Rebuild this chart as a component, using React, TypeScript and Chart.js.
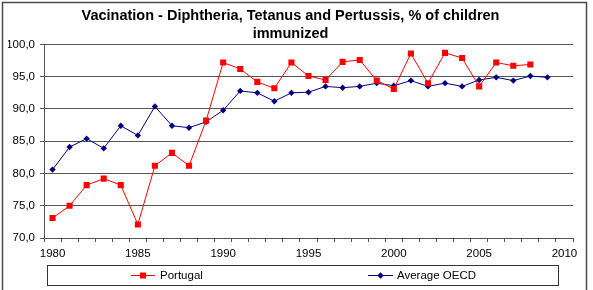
import React, { useEffect, useRef } from "react";
import { Chart, registerables } from "chart.js";

Chart.register(...registerables);

const years: string[] = [];
for (let y = 1980; y <= 2010; y++) years.push(String(y));

const portugal: (number | null)[] = [
  73.1, 75.0, 78.2, 79.2, 78.2, 72.1, 81.2, 83.2, 81.2, 88.2,
  97.2, 96.2, 94.2, 93.2, 97.2, 95.1, 94.5, 97.3, 97.6, 94.4,
  93.1, 98.6, 94.0, 98.7, 97.9, 93.5, 97.2, 96.7, 96.9, null, null,
];

const oecd: (number | null)[] = [
  80.6, 84.1, 85.4, 83.9, 87.4, 85.9, 90.4, 87.4, 87.1, 88.0,
  89.8, 92.8, 92.5, 91.2, 92.5, 92.6, 93.5, 93.3, 93.5, 94.0,
  93.6, 94.4, 93.5, 94.0, 93.5, 94.5, 94.9, 94.4, 95.1, 94.9, null,
];

const titleLines = [
  "Vacination - Diphtheria, Tetanus and Pertussis, % of children",
  "immunized",
];

const GRID = "#555555";
const FONT = "Arial, 'Liberation Sans', sans-serif";

const frameAndLegend = {
  id: "frameAndLegend",
  afterDraw(chart: any) {
    const ctx = chart.ctx;
    ctx.save();
    // outer frame
    ctx.strokeStyle = "#4a4a4a";
    ctx.lineWidth = 1.5;
    ctx.strokeRect(2.5, 2.5, 584, 292);
    // legend box
    ctx.lineWidth = 1;
    ctx.strokeStyle = "#333333";
    ctx.strokeRect(47.5, 265.5, 511, 20);
    const items = [
      { x0: 131, x1: 155, mx: 143, tx: 160 },
      { x0: 368, x1: 393, mx: 380.5, tx: 397 },
    ];
    const y = 275.5;
    chart.data.datasets.forEach((ds: any, i: number) => {
      const it = items[i];
      ctx.strokeStyle = ds.borderColor;
      ctx.lineWidth = 1;
      ctx.beginPath();
      ctx.moveTo(it.x0, y);
      ctx.lineTo(it.x1, y);
      ctx.stroke();
      ctx.fillStyle = ds.pointBackgroundColor;
      ctx.beginPath();
      if (ds.pointStyle === "rect") {
        ctx.rect(it.mx - 3, y - 3, 6, 6);
      } else {
        const r = ds.pointRadius;
        ctx.moveTo(it.mx, y - r);
        ctx.lineTo(it.mx + r, y);
        ctx.lineTo(it.mx, y + r);
        ctx.lineTo(it.mx - r, y);
        ctx.closePath();
      }
      ctx.fill();
      ctx.fillStyle = "#000";
      ctx.font = `11.5px ${FONT}`;
      ctx.textBaseline = "middle";
      ctx.textAlign = "left";
      ctx.fillText(ds.label, it.tx, y + 0.5);
    });
    ctx.restore();
  },
};

export default function App() {
  const ref = useRef<HTMLCanvasElement | null>(null);
  useEffect(() => {
    document.body.style.margin = "0";
    const canvas = ref.current!;
    const chart = new Chart(canvas, {
      type: "line",
      data: {
        labels: years,
        datasets: [
          {
            label: "Portugal",
            data: portugal,
            borderColor: "#FF0000",
            backgroundColor: "#FF0000",
            pointBackgroundColor: "#FF0000",
            pointBorderColor: "#FF0000",
            pointStyle: "rect",
            pointRadius: 4.3,
            pointBorderWidth: 0,
            borderWidth: 1,
            tension: 0,
          },
          {
            label: "Average OECD",
            data: oecd,
            borderColor: "#000080",
            backgroundColor: "#000080",
            pointBackgroundColor: "#000080",
            pointBorderColor: "#000080",
            pointStyle: "rectRot",
            pointRadius: 3.2,
            pointBorderWidth: 0,
            borderWidth: 1,
            tension: 0,
          },
        ],
      },
      options: {
        responsive: false,
        animation: false,
        devicePixelRatio: 1,
        layout: { padding: { left: 8, right: 20, top: 0, bottom: 0 } },
        plugins: {
          legend: { display: false },
          tooltip: { enabled: false },
          title: {
            display: true,
            text: titleLines,
            color: "#000",
            font: { family: FONT, size: 14.5, weight: "bold", lineHeight: 1.24 },
            padding: { top: 7, bottom: 1.5 },
          },
        },
        scales: {
          x: {
            type: "category",
            offset: true,
            afterFit: (s: any) => {
              s.height = 52;
            },
            grid: {
              offset: true,
              drawOnChartArea: false,
              drawTicks: true,
              tickLength: 4,
              color: GRID,
            },
            border: { display: true, color: GRID, width: 1 },
            ticks: {
              autoSkip: false,
              maxRotation: 0,
              minRotation: 0,
              padding: 5,
              color: "#000",
              font: { family: FONT, size: 11.5 },
              callback: (_v: any, i: number) => (i % 5 === 0 ? years[i] : ""),
            },
          },
          y: {
            min: 70,
            max: 100,
            afterFit: (s: any) => {
              s.width = 36;
            },
            grid: {
              color: GRID,
              lineWidth: 1,
              drawTicks: true,
              tickLength: 4,
            },
            border: { display: true, color: GRID, width: 1 },
            ticks: {
              stepSize: 5,
              padding: 5,
              color: "#000",
              font: { family: FONT, size: 11.5 },
              callback: (v: any) => Number(v).toFixed(1).replace(".", ","),
            },
          },
        },
      },
      plugins: [frameAndLegend],
    });
    return () => chart.destroy();
  }, []);
  return (
    <div style={{ width: 593, height: 290 }}>
      <canvas ref={ref} width={593} height={290} style={{ display: "block" }} />
    </div>
  );
}
